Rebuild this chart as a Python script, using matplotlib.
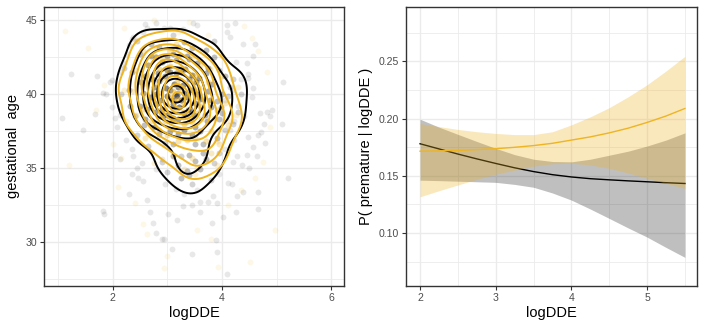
import numpy as np
import matplotlib
matplotlib.use("Agg")
import matplotlib.pyplot as plt

plt.rcParams["font.family"] = ["Liberation Sans", "DejaVu Sans"]

# ---- left panel: logDDE vs gestational age, two groups ----
gray_outer = [
    (1.07, 38.36), (1.24, 41.35), (1.45, 37.6), (1.71, 41.2), (1.68, 38.65), (1.82, 40.05),
    (1.88, 40.0), (1.83, 32.1), (1.84, 31.9), (1.95, 40.8), (2.04, 35.9), (2.13, 35.6),
    (2.07, 37.8), (2.24, 36.9), (2.35, 34.6), (2.30, 33.2), (2.38, 35.8), (2.45, 35.0),
    (2.47, 34.3), (2.53, 35.3), (2.56, 34.1), (2.62, 32.8), (2.68, 32.0), (2.73, 31.3),
    (2.80, 30.6), (2.90, 30.2), (2.93, 30.2), (3.08, 29.5), (3.02, 31.9), (3.17, 31.5),
    (3.28, 32.4), (3.45, 29.2), (3.45, 32.5), (3.60, 32.0), (3.60, 32.7), (3.75, 32.7),
    (3.84, 33.1), (3.90, 32.6), (3.89, 30.1), (3.90, 29.3), (4.09, 27.8), (3.81, 31.3),
    (4.01, 31.7), (4.26, 32.0), (4.18, 33.9), (4.27, 33.1), (4.39, 33.4), (4.65, 33.4),
    (4.65, 32.2), (4.50, 35.0), (4.57, 36.4), (4.63, 35.8), (4.79, 36.7), (4.76, 38.0),
    (4.87, 38.5), (4.91, 38.9), (5.10, 38.0), (5.11, 40.8), (5.20, 34.3), (4.56, 40.4),
    (4.54, 39.8), (4.48, 41.35), (4.45, 42.1), (4.57, 42.6), (4.39, 43.4), (4.60, 43.4),
    (4.48, 41.1), (4.09, 44.66), (4.24, 44.8), (4.09, 44.2), (4.15, 43.9), (3.54, 44.66),
    (3.46, 44.8), (3.28, 44.4), (3.05, 44.5), (2.93, 44.5), (2.80, 44.8), (2.59, 44.77),
    (2.62, 44.5), (2.56, 44.2), (2.35, 43.76), (2.38, 43.9), (2.30, 43.3), (2.26, 42.75),
    (2.20, 42.1), (2.16, 41.5), (1.98, 40.95), (1.98, 39.1), (2.04, 38.36), (2.13, 38.6),
    (4.05, 39.6), (4.21, 38.2), (4.21, 36.9), (4.48, 37.1), (4.45, 35.9), (4.36, 35.2),
    (4.27, 35.8), (4.66, 37.2), (4.70, 38.7), (4.82, 38.8), (4.72, 37.45),
    (4.20, 40.3), (4.30, 39.2), (4.15, 37.6), (4.35, 41.0), (4.25, 42.2), (4.40, 38.5),
    (4.05, 36.3), (4.20, 35.4), (3.95, 34.6), (4.10, 34.0),
]
# (logDDE, gestational age, number of overlapping observations at that spot)
gray_core = [
    (3.15, 39.9, 6), (3.05, 40.3, 6), (3.25, 39.6, 6), (3.20, 40.5, 6), (3.10, 39.3, 6),
    (3.00, 39.9, 6), (3.30, 40.1, 6), (3.12, 40.7, 6), (3.22, 39.1, 6), (3.35, 39.8, 6),
    (2.98, 40.4, 6), (3.18, 39.95, 6), (3.08, 39.6, 6), (3.28, 40.6, 6),
    (2.80, 40.0, 5), (2.85, 40.9, 5), (2.90, 39.0, 5), (3.45, 40.3, 5), (3.50, 39.4, 5),
    (3.40, 41.0, 5), (3.15, 41.4, 5), (3.10, 38.4, 5), (3.30, 38.7, 5), (2.95, 41.2, 5),
    (3.00, 38.6, 5), (3.45, 41.3, 5), (2.80, 39.3, 5), (3.55, 40.0, 5), (3.25, 41.5, 5),
    (2.75, 40.5, 5), (3.38, 38.9, 5), (2.92, 38.5, 5), (3.05, 41.5, 5), (3.52, 40.8, 5),
    (2.82, 41.4, 5), (3.42, 39.0, 5), (3.20, 38.3, 5), (2.88, 39.6, 5), (3.60, 39.7, 5),
    (2.70, 39.8, 5), (3.32, 41.7, 5), (3.00, 41.6, 5), (3.48, 38.6, 5), (2.78, 38.8, 5),
    (3.58, 41.1, 5), (2.72, 41.0, 5),
    (2.55, 40.1, 4), (2.60, 41.2, 4), (2.50, 39.2, 4), (3.75, 40.2, 4), (3.80, 39.1, 4),
    (3.70, 41.4, 4), (3.15, 42.3, 4), (3.05, 37.5, 4), (3.30, 37.6, 4), (2.90, 42.2, 4),
    (2.75, 37.8, 4), (3.55, 42.1, 4), (2.60, 38.3, 4), (3.72, 38.2, 4), (3.40, 42.4, 4),
    (2.80, 42.5, 4), (3.60, 37.5, 4), (2.65, 42.0, 4), (3.75, 41.8, 4), (2.58, 37.9, 3),
    (3.20, 37.3, 4), (3.00, 42.6, 4), (3.50, 37.8, 4), (2.70, 42.6, 4), (3.68, 38.6, 4),
    (2.52, 40.8, 4), (3.82, 40.7, 4), (3.35, 42.6, 4), (2.85, 37.3, 3), (3.10, 42.7, 4),
    (2.62, 39.0, 4), (3.78, 39.6, 4), (3.45, 37.2, 4),
    (2.30, 40.3, 3), (2.35, 41.5, 3), (2.40, 38.5, 2), (4.00, 40.0, 3), (4.05, 41.2, 3),
    (3.95, 38.3, 3), (3.20, 43.2, 3), (3.10, 36.6, 3), (2.85, 43.2, 3), (3.45, 43.1, 3),
    (2.95, 36.7, 2), (3.50, 36.6, 3), (2.50, 42.7, 3), (3.85, 42.5, 3), (2.45, 37.2, 2),
    (3.90, 37.0, 3), (2.70, 43.4, 3), (3.70, 43.0, 3), (2.65, 36.5, 2), (3.65, 36.6, 3),
    (2.32, 39.2, 3), (3.98, 39.1, 3), (3.30, 43.5, 3),
    (2.15, 40.0, 2), (2.20, 41.8, 2), (4.15, 40.5, 2), (4.20, 38.0, 2), (3.10, 44.0, 2),
    (3.25, 35.8, 2), (2.45, 43.6, 2), (3.85, 43.6, 2), (2.35, 36.3, 1), (3.95, 36.0, 2),
    (2.90, 35.6, 1),
    (3.90, 39.5, 3), (4.00, 38.7, 3), (4.10, 39.9, 2), (4.30, 38.8, 2), (4.20, 41.0, 2),
    (4.35, 40.0, 2), (3.95, 41.6, 2), (4.05, 37.6, 2),
    # low tail below the centre
    (3.20, 35.2, 3), (3.35, 34.8, 3), (3.50, 35.5, 3), (3.10, 35.8, 3), (3.40, 35.9, 3),
    (3.60, 34.9, 3), (3.70, 35.6, 3), (3.00, 34.7, 2), (2.90, 35.4, 2), (3.25, 34.3, 3),
    (3.45, 33.9, 2), (3.55, 33.5, 1), (3.80, 34.2, 2), (3.15, 33.6, 1), (3.30, 33.2, 1),
    (2.95, 33.9, 1), (3.65, 36.0, 3), (3.85, 35.3, 2), (2.80, 34.9, 1), (3.40, 34.5, 3),
]

yellow_outer = [
    (1.13, 44.3), (1.20, 35.2), (1.55, 43.1), (1.70, 38.9), (1.85, 40.6), (2.00, 36.6),
    (2.10, 33.7), (2.40, 32.6), (2.55, 31.2), (2.62, 30.5), (2.93, 28.2), (3.00, 29.0),
    (3.55, 30.8), (3.80, 30.2), (3.93, 28.3), (4.52, 28.6), (4.97, 30.8), (4.60, 34.3),
    (4.75, 35.4), (4.88, 37.8), (4.65, 42.9), (4.55, 43.8), (4.82, 41.5), (2.20, 44.5),
    (2.75, 45.0), (3.40, 44.9), (4.40, 44.6), (2.15, 35.7), (4.35, 33.5), (4.10, 32.5),
]
yellow_core = [
    (3.20, 39.7, 6), (3.10, 40.2, 6), (3.30, 39.3, 6), (3.25, 40.4, 6), (3.15, 39.0, 6),
    (3.05, 39.8, 6), (3.35, 39.9, 6), (3.18, 40.8, 6), (3.28, 38.8, 6), (3.12, 39.5, 6),
    (2.85, 40.1, 5), (2.90, 41.1, 5), (2.95, 38.9, 5), (3.50, 39.8, 5), (3.55, 38.7, 5),
    (3.45, 40.9, 5), (3.20, 41.5, 5), (3.30, 38.0, 5), (3.40, 38.4, 5), (3.00, 41.6, 5),
    (3.10, 38.3, 5), (3.50, 41.2, 5), (2.80, 39.4, 5), (3.60, 39.2, 5), (3.25, 41.8, 5),
    (2.78, 40.6, 5), (3.45, 38.1, 5), (2.95, 38.2, 5), (3.05, 41.9, 5), (3.58, 40.4, 5),
    (2.85, 41.7, 5), (3.62, 38.3, 5),
    (2.60, 40.0, 4), (2.62, 41.3, 4), (2.58, 39.0, 4), (3.80, 39.6, 4), (3.85, 38.4, 4),
    (3.75, 40.8, 4), (3.20, 42.6, 4), (3.35, 36.9, 4), (3.50, 37.0, 4), (2.90, 42.4, 4),
    (2.85, 37.6, 4), (3.60, 42.0, 3), (2.70, 38.2, 4), (3.80, 37.5, 4), (3.45, 42.5, 3),
    (2.75, 42.6, 4), (3.70, 36.8, 4), (2.65, 42.0, 4), (3.78, 41.7, 3), (3.00, 37.2, 4),
    (3.05, 42.9, 4), (3.20, 36.8, 4), (3.90, 38.9, 4), (2.55, 40.7, 4),
    (2.35, 40.2, 3), (2.40, 41.6, 3), (2.42, 38.6, 3), (4.05, 39.4, 3), (4.10, 37.9, 3),
    (4.00, 41.2, 3), (3.15, 43.4, 3), (3.45, 35.7, 3), (2.80, 43.1, 3), (3.60, 43.0, 2),
    (3.10, 35.9, 3), (3.80, 36.0, 3), (2.55, 42.9, 3), (4.00, 42.6, 2), (2.60, 37.0, 3),
    (3.95, 36.6, 3),
    (2.20, 40.3, 2), (2.25, 38.2, 2), (4.25, 38.6, 2), (4.30, 40.5, 2), (3.20, 44.2, 1),
    (3.50, 34.6, 2), (3.30, 34.9, 2), (3.90, 35.2, 2), (2.40, 43.7, 1), (3.75, 44.0, 1),
    (2.75, 35.3, 2),
    (3.70, 35.5, 2), (3.90, 36.8, 2), (4.15, 38.2, 2), (3.55, 35.0, 2),
]

# ---- right panel: fitted P(premature | logDDE) with bands ----
dde = [2.0, 2.25, 2.5, 2.75, 3.0, 3.25, 3.5, 3.75, 4.0, 4.25, 4.5, 4.75, 5.0, 5.25, 5.5]
p_gold = [0.1715, 0.1718, 0.1722, 0.1729, 0.1737, 0.1749, 0.1764, 0.1784, 0.1812,
          0.1840, 0.1875, 0.1916, 0.1966, 0.2022, 0.2088]
p_gold_hi = [0.1956, 0.1930, 0.1905, 0.1885, 0.1870, 0.1860, 0.1860, 0.1885, 0.1945,
             0.2015, 0.2095, 0.2190, 0.2295, 0.2415, 0.2543]
p_gold_lo = [0.1317, 0.1370, 0.1420, 0.1470, 0.1515, 0.1550, 0.1585, 0.1605, 0.1610,
             0.1595, 0.1565, 0.1525, 0.1478, 0.1435, 0.1390]
p_black = [0.1780, 0.1735, 0.1690, 0.1648, 0.1608, 0.1570, 0.1537, 0.1510, 0.1490,
           0.1475, 0.1465, 0.1456, 0.1448, 0.1440, 0.1433]
p_black_hi = [0.1994, 0.1925, 0.1862, 0.1800, 0.1740, 0.1685, 0.1645, 0.1625, 0.1622,
              0.1645, 0.1680, 0.1715, 0.1760, 0.1812, 0.1875]
p_black_lo = [0.1462, 0.1458, 0.1453, 0.1448, 0.1443, 0.1425, 0.1400, 0.1350, 0.1288,
              0.1210, 0.1128, 0.1045, 0.0965, 0.0875, 0.0788]

GOLD = "#EEB422"
H_X, H_Y = 0.22, 0.85   # kernel sd of the 2-d density


def expand(outer, core):
    pts = [(x, y) for x, y in outer]
    for x, y, n in core:
        pts += [(x, y)] * n
    return np.array(pts).T


def style_bw(ax, xminor, yminor):
    ax.set_facecolor("white")
    ax.set_xticks(xminor, minor=True)
    ax.set_yticks(yminor, minor=True)
    ax.grid(True, which="major", color="#EBEBEB", lw=1.0, zorder=0)
    ax.grid(True, which="minor", color="#EBEBEB", lw=0.6, zorder=0)
    ax.set_axisbelow(True)
    for s in ax.spines.values():
        s.set_color("#333333")
        s.set_linewidth(1.0)
    ax.tick_params(which="major", length=3, width=0.8, color="#333333",
                   labelcolor="#4D4D4D", labelsize=7.6, pad=2)
    ax.tick_params(which="minor", length=0)


def kde2d(x, y, gx, gy, hx, hy):
    kx = np.exp(-0.5 * ((gx[:, None] - x[None, :]) / hx) ** 2) / hx
    ky = np.exp(-0.5 * ((gy[:, None] - y[None, :]) / hy) ** 2) / hy
    return ky @ kx.T / (2 * np.pi * len(x))


fig = plt.figure(figsize=(7.06, 3.3), dpi=100)
ax1 = fig.add_axes([44 / 706, 44 / 330, 300 / 706, 279 / 330])
ax2 = fig.add_axes([406 / 706, 44 / 330, 291 / 706, 279 / 330])

gx_, gy_ = expand(gray_outer, gray_core)
yx_, yy_ = expand(yellow_outer, yellow_core)
ax1.scatter(gx_, gy_, s=18, color="black", alpha=0.09, linewidths=0, zorder=2)
ax1.scatter(yx_, yy_, s=18, color=GOLD, alpha=0.1, linewidths=0, zorder=2)

grid_x = np.linspace(0.75, 6.2, 160)
grid_y = np.linspace(27.0, 45.9, 160)
z_black = kde2d(gx_, gy_, grid_x, grid_y, H_X, H_Y)
z_gold = kde2d(yx_, yy_, grid_x, grid_y, H_X, H_Y)
zmax = max(z_black.max(), z_gold.max())
step = zmax / 10.5
levels = np.arange(step, zmax, step)
ax1.contour(grid_x, grid_y, z_black, levels=levels, colors="black", linewidths=1.4, zorder=3)
ax1.contour(grid_x, grid_y, z_gold, levels=levels, colors=GOLD, linewidths=1.4, zorder=4)

ax1.set_xlim(0.744, 6.23)
ax1.set_ylim(27.0, 45.9)
ax1.set_xticks([2, 4, 6])
ax1.set_yticks([30, 35, 40, 45])
style_bw(ax1, [1, 3, 5], [27.5, 32.5, 37.5, 42.5])
ax1.set_xlabel("logDDE", fontsize=10.5, labelpad=2)
ax1.set_ylabel("gestational  age", fontsize=10.5, labelpad=4)

ax2.fill_between(dde, p_black_lo, p_black_hi, color="black", alpha=0.25, lw=0, zorder=2)
ax2.plot(dde, p_black, color="black", lw=1.0, zorder=3)
ax2.fill_between(dde, p_gold_lo, p_gold_hi, color=GOLD, alpha=0.3, lw=0, zorder=4)
ax2.plot(dde, p_gold, color=GOLD, lw=1.0, zorder=5)
ax2.set_xlim(1.814, 5.66)
ax2.set_ylim(0.0538, 0.2974)
ax2.set_xticks([2, 3, 4, 5])
ax2.set_yticks([0.10, 0.15, 0.20, 0.25])
ax2.set_yticklabels(["0.10", "0.15", "0.20", "0.25"])
style_bw(ax2, [2.5, 3.5, 4.5, 5.5], [0.075, 0.125, 0.175, 0.225, 0.275])
ax2.set_xlabel("logDDE", fontsize=10.5, labelpad=2)
ax2.set_ylabel("P( premature | logDDE )", fontsize=10.5, labelpad=4)

fig.savefig("out.png", dpi=100)
